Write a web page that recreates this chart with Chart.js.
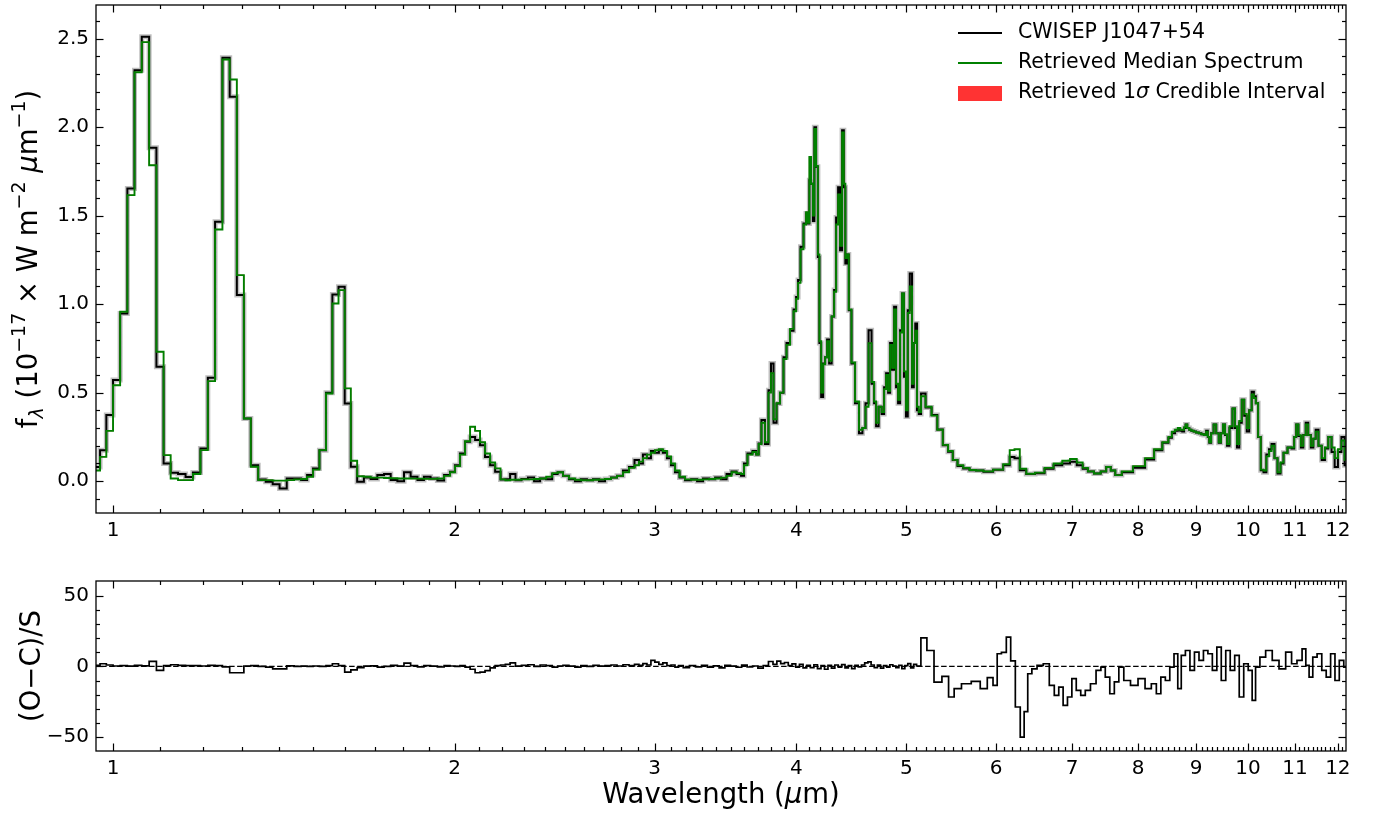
<!DOCTYPE html>
<html><head><meta charset="utf-8">
<script src="https://cdn.jsdelivr.net/npm/chart.js@4.4.1/dist/chart.umd.min.js"></script>
<style>
html,body{margin:0;padding:0;background:#fff;}
#wrap{position:relative;width:1375px;height:817px;overflow:hidden;}
canvas{position:absolute;left:0;}
</style></head><body>
<div id="wrap">
<canvas id="cTop" width="1375" height="560" style="top:0px"></canvas>
<canvas id="cBot" width="1375" height="257" style="top:560px"></canvas>
</div>
<script>
// ---------------- DATA ----------------
const wavelength = [0.955,0.968,0.980,0.993,1.007,1.022,1.037,1.052,1.068,1.084,1.100,1.116,1.132,1.150,1.167,1.185,1.203,1.221,1.239,1.258,1.276,1.295,1.313,1.332,1.353,1.373,1.392,1.412,1.433,1.455,1.474,1.491,1.510,1.530,1.551,1.570,1.590,1.610,1.630,1.652,1.675,1.698,1.721,1.745,1.768,1.793,1.816,1.842,1.867,1.891,1.918,1.944,1.971,1.991,2.011,2.032,2.053,2.074,2.095,2.116,2.138,2.160,2.182,2.208,2.225,2.251,2.274,2.306,2.335,2.364,2.393,2.423,2.452,2.477,2.506,2.537,2.568,2.599,2.632,2.664,2.697,2.730,2.763,2.797,2.831,2.866,2.895,2.918,2.942,2.966,2.990,3.014,3.039,3.063,3.090,3.114,3.140,3.172,3.211,3.251,3.290,3.331,3.372,3.413,3.454,3.490,3.525,3.561,3.590,3.604,3.641,3.678,3.696,3.715,3.738,3.768,3.792,3.807,3.831,3.854,3.885,3.909,3.933,3.965,3.990,4.006,4.022,4.046,4.071,4.088,4.101,4.113,4.130,4.143,4.155,4.172,4.185,4.198,4.215,4.232,4.249,4.266,4.284,4.310,4.327,4.345,4.362,4.380,4.398,4.411,4.425,4.438,4.460,4.487,4.524,4.560,4.588,4.617,4.645,4.674,4.693,4.712,4.741,4.770,4.789,4.809,4.828,4.848,4.868,4.887,4.907,4.927,4.947,4.966,4.986,5.007,5.022,5.048,5.068,5.084,5.099,5.120,5.136,5.167,5.231,5.295,5.354,5.414,5.469,5.519,5.575,5.649,5.720,5.800,5.894,6.033,6.138,6.195,6.259,6.329,6.426,6.558,6.679,6.802,6.920,7.019,7.112,7.190,7.264,7.368,7.466,7.535,7.605,7.674,7.809,8.033,8.199,8.333,8.478,8.540,8.600,8.650,8.697,8.735,8.768,8.800,8.822,8.860,8.894,8.935,8.976,9.025,9.075,9.120,9.168,9.204,9.230,9.259,9.300,9.352,9.400,9.447,9.485,9.525,9.565,9.603,9.660,9.721,9.760,9.800,9.850,9.899,9.950,10.00,10.05,10.10,10.14,10.18,10.235,10.29,10.35,10.41,10.46,10.52,10.585,10.65,10.715,10.78,10.89,10.96,11.005,11.05,11.105,11.16,11.215,11.27,11.33,11.39,11.445,11.50,11.575,11.65,11.73,11.81,11.885,11.96,12.045,12.13,12.20,12.30];

const fluxObserved = [0.06,0.08,0.175,0.373,0.571,0.947,1.653,2.322,2.51,1.883,0.646,0.10,0.047,0.04,0.024,0.049,0.185,0.584,1.465,2.392,2.171,1.051,0.354,0.09,0.009,-0.004,-0.017,-0.041,0.015,0.015,0.006,0.034,0.072,0.175,0.499,1.055,1.098,0.439,0.081,-0.004,0.021,0.012,0.034,0.04,0.006,0.0,0.05,0.025,0.006,0.025,0.015,0.004,0.034,0.053,0.09,0.156,0.222,0.25,0.232,0.203,0.137,0.09,0.053,0.009,0.01,0.04,0.005,0.012,0.02,0.0,0.015,0.01,0.04,0.05,0.03,0.01,0.0,0.01,0.005,0.01,0.0,0.012,0.02,0.03,0.06,0.08,0.12,0.10,0.15,0.13,0.17,0.16,0.175,0.16,0.13,0.09,0.05,0.02,0.005,0.01,0.0,0.015,0.01,0.02,0.01,0.04,0.055,0.04,0.03,0.1,0.156,0.17,0.15,0.213,0.345,0.21,0.514,0.665,0.33,0.439,0.5,0.70,0.78,0.85,0.97,1.04,1.136,1.324,1.456,1.512,1.456,1.70,1.68,1.47,2.0,1.776,1.267,0.78,0.476,0.665,0.70,0.80,0.665,0.93,1.08,1.49,1.66,1.305,1.983,1.66,1.23,1.28,0.966,0.665,0.44,0.27,0.30,0.44,0.853,0.55,0.44,0.31,0.42,0.38,0.53,0.61,0.50,0.78,0.63,0.985,0.53,0.44,0.853,1.06,0.59,0.365,0.966,1.173,0.53,0.78,0.89,0.40,0.38,0.495,0.416,0.373,0.292,0.203,0.166,0.119,0.085,0.072,0.062,0.060,0.053,0.065,0.09,0.137,0.13,0.062,0.04,0.045,0.07,0.09,0.10,0.11,0.09,0.07,0.055,0.043,0.055,0.08,0.06,0.034,0.05,0.075,0.122,0.175,0.217,0.245,0.27,0.285,0.29,0.285,0.28,0.30,0.32,0.30,0.29,0.285,0.28,0.275,0.27,0.265,0.26,0.284,0.25,0.217,0.27,0.32,0.27,0.217,0.27,0.32,0.26,0.20,0.30,0.41,0.30,0.19,0.33,0.46,0.37,0.28,0.40,0.505,0.48,0.44,0.25,0.062,0.05,0.15,0.18,0.21,0.13,0.043,0.10,0.16,0.19,0.185,0.25,0.32,0.255,0.19,0.26,0.33,0.26,0.19,0.24,0.29,0.20,0.12,0.185,0.25,0.165,0.08,0.165,0.25,0.09,0.15];

const fluxModel = [0.05,0.06,0.137,0.284,0.542,0.957,1.616,2.31,2.48,1.785,0.731,0.147,0.015,0.006,0.006,0.04,0.175,0.565,1.422,2.382,2.269,1.164,0.354,0.081,0.006,0.006,0.003,0.003,0.006,0.01,0.012,0.025,0.065,0.175,0.495,1.004,1.079,0.524,0.115,0.028,0.025,0.02,0.02,0.018,0.016,0.015,0.015,0.014,0.014,0.013,0.013,0.015,0.03,0.05,0.085,0.15,0.225,0.307,0.284,0.22,0.156,0.105,0.072,0.01,0.005,0.008,0.008,0.01,0.01,0.012,0.015,0.025,0.045,0.05,0.03,0.015,0.008,0.005,0.005,0.008,0.01,0.012,0.02,0.03,0.05,0.075,0.09,0.11,0.13,0.15,0.16,0.175,0.18,0.17,0.14,0.1,0.06,0.025,0.01,0.008,0.008,0.01,0.012,0.015,0.02,0.03,0.05,0.045,0.04,0.09,0.15,0.165,0.15,0.21,0.33,0.22,0.5,0.61,0.35,0.44,0.5,0.69,0.77,0.86,0.96,1.03,1.12,1.31,1.45,1.52,1.46,1.832,1.68,1.50,1.99,1.78,1.28,0.79,0.5,0.66,0.70,0.79,0.68,0.93,1.07,1.45,1.62,1.33,1.97,1.68,1.26,1.28,0.97,0.67,0.45,0.29,0.30,0.42,0.78,0.56,0.45,0.33,0.42,0.39,0.52,0.60,0.51,0.77,0.64,0.97,0.55,0.46,0.84,1.06,0.62,0.40,0.95,1.10,0.55,0.78,0.85,0.42,0.39,0.48,0.42,0.37,0.29,0.205,0.17,0.12,0.09,0.075,0.063,0.06,0.055,0.065,0.095,0.175,0.18,0.07,0.042,0.048,0.075,0.10,0.115,0.125,0.105,0.075,0.055,0.043,0.055,0.08,0.06,0.034,0.055,0.085,0.13,0.18,0.22,0.25,0.28,0.29,0.30,0.29,0.29,0.305,0.32,0.30,0.29,0.285,0.28,0.275,0.27,0.265,0.26,0.28,0.25,0.22,0.27,0.32,0.27,0.22,0.27,0.32,0.265,0.21,0.31,0.41,0.31,0.21,0.34,0.46,0.38,0.30,0.40,0.49,0.47,0.44,0.25,0.065,0.06,0.14,0.17,0.2,0.13,0.05,0.105,0.16,0.19,0.19,0.25,0.32,0.26,0.20,0.26,0.32,0.26,0.20,0.24,0.28,0.20,0.13,0.19,0.25,0.19,0.13,0.18,0.23,0.12,0.15];

const resWavelength = [0.955,0.968,0.980,0.993,1.007,1.022,1.037,1.052,1.068,1.084,1.100,1.116,1.132,1.150,1.167,1.185,1.203,1.221,1.239,1.258,1.276,1.295,1.313,1.332,1.353,1.373,1.392,1.412,1.433,1.455,1.474,1.491,1.510,1.530,1.551,1.570,1.590,1.610,1.630,1.652,1.675,1.698,1.721,1.745,1.768,1.793,1.816,1.842,1.867,1.891,1.918,1.944,1.971,1.991,2.011,2.032,2.053,2.074,2.095,2.116,2.138,2.160,2.182,2.208,2.225,2.251,2.274,2.306,2.335,2.364,2.393,2.423,2.452,2.477,2.506,2.537,2.568,2.599,2.632,2.664,2.697,2.730,2.763,2.797,2.831,2.866,2.895,2.918,2.942,2.966,2.990,3.014,3.039,3.063,3.090,3.114,3.140,3.16,3.20,3.24,3.28,3.32,3.36,3.40,3.44,3.48,3.52,3.56,3.60,3.64,3.68,3.72,3.76,3.80,3.83,3.86,3.89,3.92,3.95,3.98,4.01,4.04,4.07,4.10,4.13,4.16,4.19,4.22,4.25,4.28,4.31,4.34,4.37,4.40,4.43,4.46,4.49,4.52,4.55,4.58,4.61,4.64,4.67,4.70,4.73,4.76,4.79,4.82,4.85,4.88,4.91,4.94,4.97,5.00,5.03,5.06,5.09,5.12,5.18,5.246,5.332,5.417,5.478,5.541,5.643,5.765,5.853,5.932,5.991,6.033,6.095,6.154,6.204,6.271,6.329,6.371,6.422,6.479,6.558,6.645,6.72,6.781,6.843,6.902,6.965,7.026,7.09,7.155,7.222,7.307,7.388,7.452,7.52,7.59,7.66,7.73,7.816,7.943,8.058,8.173,8.266,8.341,8.418,8.495,8.571,8.642,8.703,8.765,8.85,8.928,9.014,9.094,9.178,9.26,9.345,9.43,9.515,9.603,9.689,9.779,9.869,9.959,10.05,10.12,10.19,10.30,10.43,10.58,10.72,10.87,10.98,11.11,11.21,11.28,11.36,11.45,11.56,11.67,11.77,11.88,11.98,12.09,12.20,12.30];

const residual = [0.5,0.8,1.9,1.0,0.3,0.5,0.2,0.7,0.4,3.6,-2.8,0.5,1.2,0.8,0.6,0.5,0.3,0.7,0.6,-0.3,-4.5,-4.5,0.3,0.5,0.0,-0.5,-1.7,-1.7,0.4,0.0,0.3,0.0,0.3,0.0,0.5,1.9,0.5,-4.0,-2.5,-0.8,0.2,0.4,-0.5,0.0,0.8,0.2,2.4,0.5,-0.3,0.6,0.2,-0.4,0.5,0.3,0.0,0.5,-0.5,-2.0,-4.5,-4.0,-3.0,-1.0,0.5,1.0,1.5,2.5,0.2,0.8,1.2,0.0,1.0,0.5,-0.5,0.3,0.8,0.2,-0.5,0.5,0.0,0.8,0.2,0.5,1.0,0.3,1.2,0.5,1.5,0.8,2.0,1.0,4.3,3.0,1.5,2.5,0.5,1.0,-0.5,0.5,-0.8,0.6,-0.3,0.8,-0.5,0.4,-1.0,0.7,0.2,-0.6,0.9,-0.4,0.3,-1.2,0.5,3.5,1.5,3.8,2.0,2.8,0.5,1.8,-0.5,1.5,-1.0,0.8,-0.8,1.2,-1.5,0.5,-2.0,0.8,-1.2,1.0,-0.5,1.3,-1.0,0.6,-1.5,0.7,-0.3,1.0,2.5,3.2,1.0,-0.8,0.9,-1.2,0.6,-0.5,1.2,0.2,-0.8,0.8,-1.5,0.6,2.0,-1.0,1.5,0.3,20.3,11.3,-11.1,-7.1,-21.7,-15.8,-12.3,-10.6,-15.8,-8.0,-13.5,9.0,10.0,20.8,4.0,-28.8,-50.1,-32.0,-5.2,-1.7,0.7,1.9,-13.5,-20.6,-14.7,-27.7,-21.7,-8.7,-17.0,-20.6,-17.0,-12.3,-2.8,-0.5,-7.6,-19.4,-11.0,-0.5,-10.0,-13.5,-8.7,-15.8,-12.3,-19.4,-7.6,-10.0,-0.5,9.0,-15.8,7.8,11.3,-2.8,10.2,4.3,11.3,9.0,-2.8,13.7,-10.0,11.3,-2.8,7.8,-21.7,1.9,-2.8,-24.1,-0.5,6.6,11.3,4.3,-1.7,10.2,1.9,4.3,12.5,0.7,-7.6,6.6,9.0,-2.8,-7.6,9.0,-10.0,4.3,-0.5,3.0];

const xTickLabels = [1,2,3,4,5,6,7,8,9,10,11,12];
const yTopTickLabels = [0,0.5,1,1.5,2,2.5];
const yBotTickLabels = [-50,0,50];
const legendLabels = ['CWISEP J1047+54','Retrieved Median Spectrum','Retrieved 1\u03C3 Credible Interval'];

// ---------------- CHART SETUP ----------------
const FAM = "'DejaVu Sans', sans-serif";
Chart.defaults.font.family = FAM;
Chart.defaults.color = '#000';
const X_MIN = 0.966, X_MAX = 12.2;
const TICK_PX = 20, LABEL_PX = 27.5, SUB_PX = 19, LEG_PX = 20.5;
const pts = (xs, ys) => xs.map((x, i) => ({x: x, y: ys[i]}));
const fnt = (p, base) => (p.it ? 'italic ' : '') + (p.s || base) + 'px ' + FAM;

function drawRich(ctx, parts, base, cx, cy, rot, align) {
  ctx.save();
  ctx.translate(cx, cy);
  if (rot) ctx.rotate(-Math.PI / 2);
  ctx.fillStyle = '#000';
  ctx.textBaseline = 'alphabetic';
  ctx.textAlign = 'left';
  const w = parts.map(p => { ctx.font = fnt(p, base); return ctx.measureText(p.t).width; });
  const total = w.reduce((a, b) => a + b, 0);
  let x = align === 'left' ? 0 : -total / 2;
  parts.forEach((p, i) => { ctx.font = fnt(p, base); ctx.fillText(p.t, x, p.dy || 0); x += w[i]; });
  ctx.restore();
}

function xScale(h) {
  return {
    type: 'logarithmic', min: X_MIN, max: X_MAX,
    afterBuildTicks: s => { s.ticks = xTickLabels.map(v => ({value: v})); },
    afterFit: s => { s.height = h; s.paddingLeft = 0; s.paddingRight = 0; s.paddingTop = 0; s.paddingBottom = 0; },
    ticks: {autoSkip: false, maxRotation: 0, minRotation: 0, padding: 6, font: {size: TICK_PX}, color: '#000',
      callback: v => String(v)},
    grid: {display: false, drawTicks: false}, border: {display: false}
  };
}

function yFit(s) { s.width = 96; s.paddingTop = 0; s.paddingBottom = 0; s.paddingLeft = 0; s.paddingRight = 0; }

function framePlugin(cfg) {
  return {
    id: 'frame' + cfg.name,
    afterDraw(chart) {
      const ctx = chart.ctx, a = chart.chartArea, xs = chart.scales.x, ys = chart.scales.y;
      ctx.save();
      ctx.strokeStyle = '#000';
      ctx.lineWidth = 1.2;
      const line = (x1, y1, x2, y2) => { ctx.beginPath(); ctx.moveTo(x1, y1); ctx.lineTo(x2, y2); ctx.stroke(); };
      for (let i = 10; i <= 122; i++) {
        const v = i / 10;
        if (v > X_MAX) break;
        const px = Math.round(xs.getPixelForValue(v)) + 0.5;
        if (px < a.left + 1 || px > a.right - 1) continue;
        const L = (i % 10 === 0) ? 7.5 : 4;
        line(px, a.bottom, px, a.bottom - L);
        line(px, a.top, px, a.top + L);
      }
      for (let i = cfg.yFrom; i <= cfg.yTo; i++) {
        const v = i * cfg.yStep;
        const py = Math.round(ys.getPixelForValue(v)) + 0.5;
        if (py < a.top + 2 || py > a.bottom - 2) continue;
        const L = (i % cfg.yMajorEvery === 0) ? 7.5 : 4;
        line(a.left, py, a.left + L, py);
        line(a.right, py, a.right - L, py);
      }
      ctx.lineWidth = 1.3;
      ctx.strokeRect(a.left, a.top, a.right - a.left, a.bottom - a.top);
      if (cfg.extra) cfg.extra(chart, ctx);
      ctx.restore();
    }
  };
}

// ---------- TOP PANEL ----------
const topExtra = (chart, ctx) => {
  drawRich(ctx, [
    {t: 'f'}, {t: '\u03BB', s: SUB_PX, it: true, dy: 6},
    {t: ' (10'}, {t: '\u221217', s: SUB_PX, dy: -12},
    {t: ' \u00D7 W m'}, {t: '\u22122', s: SUB_PX, dy: -12},
    {t: ' '}, {t: '\u03BC', it: true}, {t: 'm'}, {t: '\u22121', s: SUB_PX, dy: -12}, {t: ')'}
  ], LABEL_PX, 37, 259, true);
  ctx.lineWidth = 1.8;
  ctx.strokeStyle = '#000';
  ctx.beginPath(); ctx.moveTo(958, 33); ctx.lineTo(1002, 33); ctx.stroke();
  ctx.strokeStyle = '#008000';
  ctx.beginPath(); ctx.moveTo(958, 63); ctx.lineTo(1002, 63); ctx.stroke();
  ctx.fillStyle = '#ff3333';
  ctx.fillRect(958, 86, 44, 15);
  ctx.fillStyle = '#000';
  ctx.textBaseline = 'middle';
  ctx.font = LEG_PX + 'px ' + FAM;
  ctx.fillText(legendLabels[0], 1018, 33);
  ctx.fillText(legendLabels[1], 1018, 63);
  ctx.textBaseline = 'alphabetic';
  drawRich(ctx, [{t: 'Retrieved 1'}, {t: '\u03C3', it: true}, {t: ' Credible Interval'}], LEG_PX, 1018, 98, false, 'left');
};

new Chart(document.getElementById('cTop'), {
  type: 'line',
  data: {
    datasets: [
      {label: 'Observed uncertainty', order: 3, data: pts(wavelength, fluxObserved), borderColor: 'rgba(128,128,128,0.5)', borderWidth: 5, stepped: 'middle', pointRadius: 0, clip: 0},
      {label: legendLabels[0], order: 2, data: pts(wavelength, fluxObserved), borderColor: '#000000', borderWidth: 2, stepped: 'middle', pointRadius: 0, clip: 0},
      {label: legendLabels[2], order: 1, data: pts(wavelength, fluxModel), borderColor: '#ff3333', borderWidth: 0.8, stepped: 'middle', pointRadius: 0, clip: 0},
      {label: legendLabels[1], order: 0, data: pts(wavelength, fluxModel), borderColor: '#008000', borderWidth: 1.9, stepped: 'middle', pointRadius: 0, clip: 0}
    ]
  },
  options: {
    responsive: false, animation: false, devicePixelRatio: 1,
    parsing: false, normalized: true,
    layout: {padding: {left: 0, right: 29, top: 5, bottom: 0}},
    plugins: {legend: {display: false}, tooltip: {enabled: false}},
    scales: {
      x: xScale(47),
      y: {
        type: 'linear', min: -0.18, max: 2.69,
        afterBuildTicks: s => { s.ticks = yTopTickLabels.map(v => ({value: v})); },
        afterFit: yFit,
        ticks: {padding: 7, font: {size: TICK_PX}, color: '#000', callback: v => Number(v).toFixed(1)},
        grid: {display: false, drawTicks: false}, border: {display: false}
      }
    }
  },
  plugins: [framePlugin({name: 'top', yFrom: -1, yTo: 26, yStep: 0.1, yMajorEvery: 5, extra: topExtra})]
});

// ---------- BOTTOM PANEL ----------
const botExtra = (chart, ctx) => {
  drawRich(ctx, [{t: '(O\u2212C)/S'}], LABEL_PX, 40, 106, true);
  drawRich(ctx, [{t: 'Wavelength ('}, {t: '\u03BC', it: true}, {t: 'm)'}], LABEL_PX, 721, 243, false);
};

new Chart(document.getElementById('cBot'), {
  type: 'line',
  data: {
    datasets: [
      {label: 'zero', order: 1, data: [{x: 0.9, y: 0}, {x: 13, y: 0}], borderColor: '#000', borderWidth: 1.2, borderDash: [5.5, 2.5], pointRadius: 0, clip: 0},
      {label: '(O\u2212C)/S', order: 0, data: pts(resWavelength, residual), borderColor: '#000', borderWidth: 1.7, stepped: 'middle', pointRadius: 0, clip: 0}
    ]
  },
  options: {
    responsive: false, animation: false, devicePixelRatio: 1,
    parsing: false, normalized: true,
    layout: {padding: {left: 0, right: 29, top: 21, bottom: 0}},
    plugins: {legend: {display: false}, tooltip: {enabled: false}},
    scales: {
      x: xScale(66),
      y: {
        type: 'linear', min: -60, max: 60.6,
        afterBuildTicks: s => { s.ticks = yBotTickLabels.map(v => ({value: v})); },
        afterFit: yFit,
        ticks: {padding: 7, font: {size: TICK_PX}, color: '#000', callback: v => (v < 0 ? '\u2212' + Math.abs(v) : String(v))},
        grid: {display: false, drawTicks: false}, border: {display: false}
      }
    }
  },
  plugins: [framePlugin({name: 'bot', yFrom: -6, yTo: 6, yStep: 10, yMajorEvery: 5, extra: botExtra})]
});
</script>
</body></html>
